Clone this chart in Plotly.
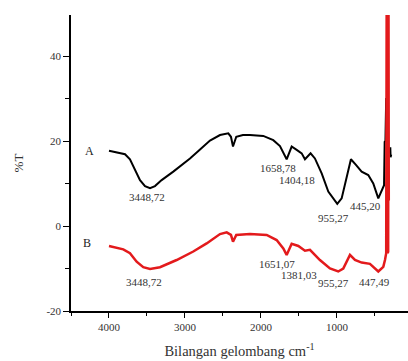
import plotly.graph_objects as go

# Spectrum A (black)
wn_a = [4000, 3855, 3789, 3724, 3658, 3592, 3526, 3460, 3395, 3307, 3154, 3000, 2934, 2802, 2671,
        2539, 2430, 2395, 2368, 2325, 2237, 2145, 1970, 1838, 1750, 1662, 1596, 1530, 1464, 1421,
        1347, 1290, 1201, 1114, 996, 938, 873, 816, 750, 675, 588, 522, 456, 390,
        380, 372, 362, 352, 345, 335, 320, 305, 298, 294, 290, 286]
t_a = [17.7, 17.1, 16.9, 15.7, 13.2, 10.8, 9.4, 8.9, 9.4, 10.8, 12.8, 14.9, 15.9, 18.0, 20.1,
       21.4, 21.8, 21.0, 18.7, 21.0, 21.4, 21.4, 21.2, 20.2, 18.8, 15.7, 18.7, 17.9, 17.1, 15.7,
       17.1, 15.9, 12.4, 8.1, 5.2, 6.5, 11.2, 15.7, 14.4, 12.8, 12.0, 10.0, 6.5, 9.2,
       9.6, 19.8, 20.0, 30.1, 22.0, 18.0, 17.5, 17.2, 18.5, 16.2, 17.0, 16.8]

# Spectrum B (red)
wn_b = [4000, 3812, 3724, 3636, 3549, 3460, 3329, 3110, 2891, 2715, 2539, 2451, 2395, 2368, 2325,
        2145, 1925, 1794, 1706, 1662, 1596, 1508, 1421, 1355, 1224, 1092, 983, 917, 829, 763,
        675, 566, 456, 390, 368, 352, 345, 336, 332, 326, 322, 318]
t_b = [-4.7, -5.5, -6.4, -8.4, -9.7, -10.1, -9.7, -8.0, -6.0, -4.1, -1.9, -1.5, -2.1, -3.7, -2.1,
       -1.9, -2.1, -3.3, -5.3, -6.8, -4.2, -4.7, -5.8, -5.6, -8.0, -10.0, -10.7, -10.0, -6.8, -8.0,
       -8.6, -8.9, -10.7, -9.6, -8.0, -6.4, 60.0, 60.0, -6.4, -6.0, 60.0, 6.0]

# Peak labels
lab_a_text = ["3448,72", "1658,78", "1404,18", "955,27", "445,20"]
lab_a_x = [3504, 1776, 1530, 1052, 620]
lab_a_y = [6.9, 13.6, 10.8, 1.9, 4.7]
lab_b_text = ["3448,72", "1651,07", "1381,03", "955,27", "447,49"]
lab_b_x = [3539, 1794, 1500, 1052, 500]
lab_b_y = [-13.1, -8.9, -11.5, -13.5, -13.1]
series_names = ["A", "B"]
series_lab_x = [4263, 4290]
series_lab_y = [17.6, -4.0]

FONT = "Liberation Serif"

fig = go.Figure()
fig.add_trace(go.Scatter(x=wn_a, y=t_a, mode="lines", line=dict(color="black", width=2), showlegend=False))
fig.add_trace(go.Scatter(x=wn_b, y=t_b, mode="lines", line=dict(color="#e31a1c", width=2.5), showlegend=False))

for txt, x, y in zip(lab_a_text + lab_b_text, lab_a_x + lab_b_x, lab_a_y + lab_b_y):
    fig.add_annotation(x=x, y=y, text=txt, showarrow=False,
                       font=dict(family=FONT, size=11, color="#333"))
for txt, x, y in zip(series_names, series_lab_x, series_lab_y):
    fig.add_annotation(x=x, y=y, text=txt, showarrow=False,
                       font=dict(family=FONT, size=12, color="#222"))

fig.update_layout(
    width=408, height=361,
    margin=dict(l=71, r=0, t=15, b=50),
    paper_bgcolor="white", plot_bgcolor="white",
    font=dict(family=FONT, size=11, color="#333"),
    xaxis=dict(range=[4500, 65], showgrid=False, zeroline=False,
               showline=True, linecolor="black", linewidth=1.5,
               ticks="outside", ticklen=5, tickwidth=1.2, tickcolor="black",
               tickvals=[4000, 3000, 2000, 1000], ticktext=["4000", "3000", "2000", "1000"],
               minor=dict(tickvals=[4500, 3500, 2500, 1500, 500], ticks="outside", ticklen=3, tickcolor="black"),
               title=dict(text="Bilangan gelombang cm<sup>-1</sup>", font=dict(family=FONT, size=14.5, color="#333"), standoff=14)),
    yaxis=dict(range=[-20, 49.65], showgrid=False, zeroline=False,
               showline=True, linecolor="black", linewidth=1.5,
               ticks="outside", ticklen=6, tickwidth=1.2, tickcolor="black",
               tickvals=[-20, 0, 20, 40], ticktext=["-20", "0", "20", "40"],
               minor=dict(tickvals=[-10, 10, 30], ticks="outside", ticklen=4, tickcolor="black"),
               title=dict(text="%T", font=dict(family=FONT, size=13, color="#333"), standoff=20)),
)

fig.write_html("out.html", config={"displayModeBar": False},
               post_script="document.body.style.margin='0';document.body.style.overflow='hidden';")
